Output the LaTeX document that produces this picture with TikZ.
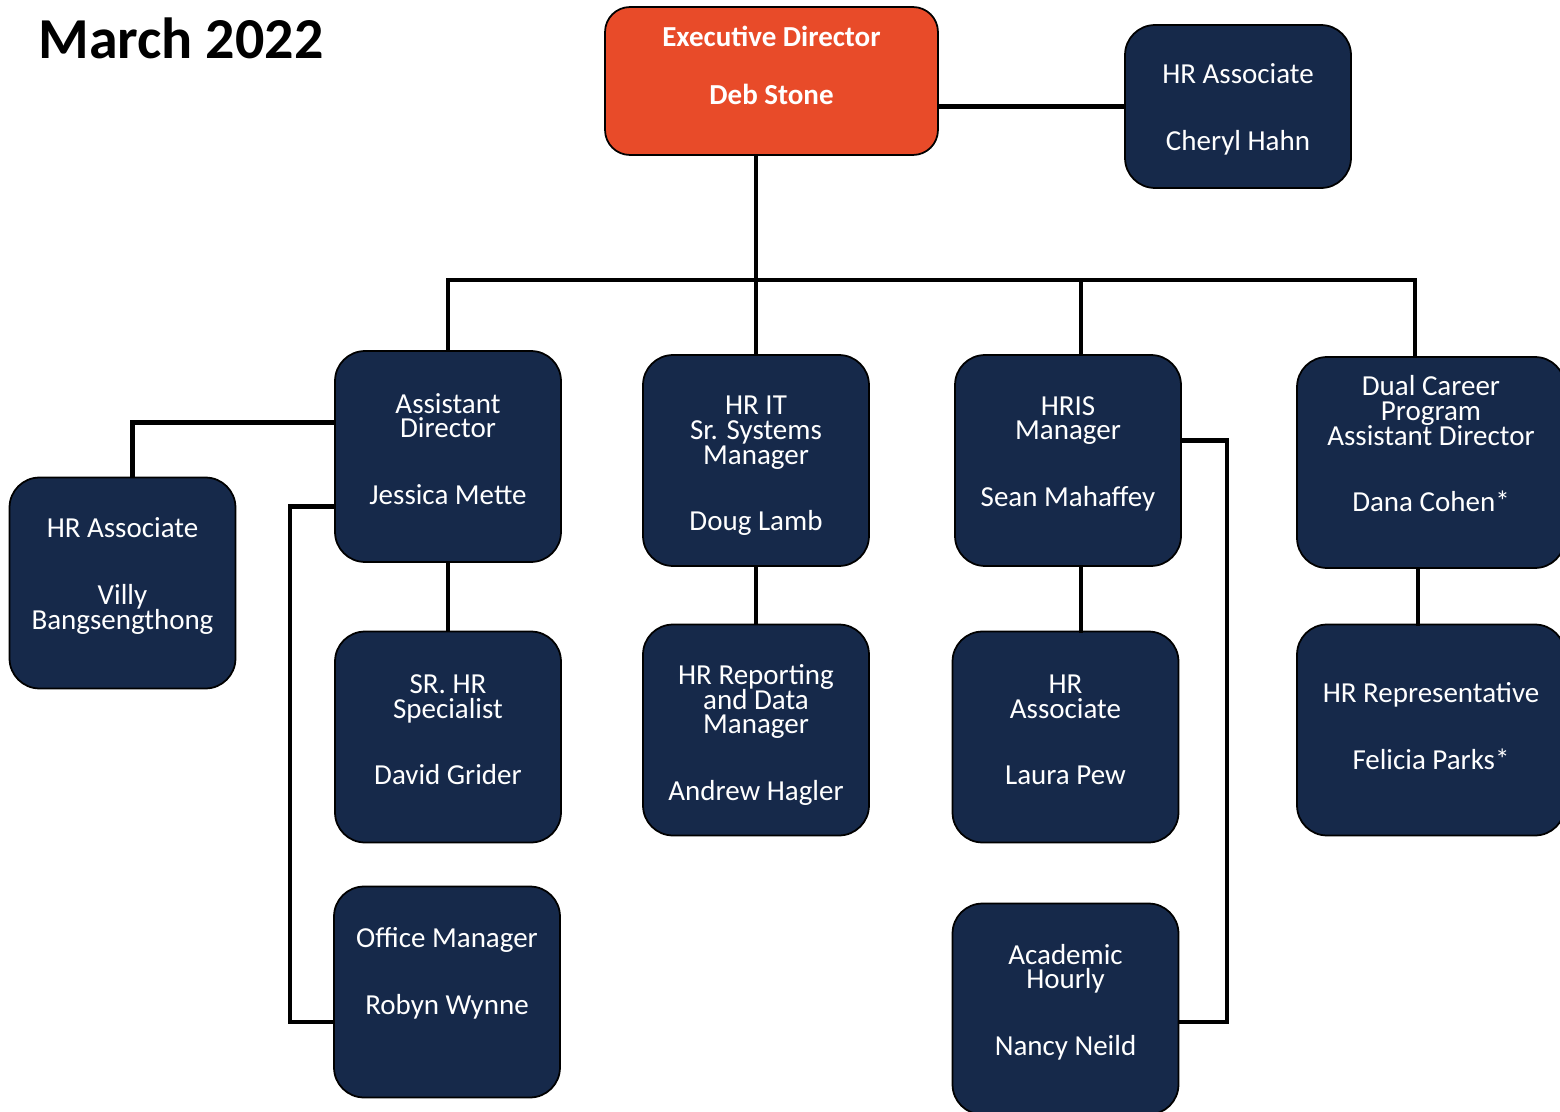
\documentclass[tikz,border=0pt]{standalone}
\usepackage{fontspec}
\setmainfont{Carlito}
\usepackage{tikz}
\usetikzlibrary{calc}

\definecolor{navy}{HTML}{16294A}
\definecolor{redorange}{HTML}{E84B29}
\setlength{\lineskiplimit}{-20pt}

\begin{document}
\begin{tikzpicture}[x=0.02cm,y=-0.02cm,
  box/.style={draw=black,line width=1pt,fill=navy,rounded corners=0.6cm,
    minimum width=4.52cm,minimum height=4.22cm,inner sep=0pt},
  txt/.style={text=white,align=center,inner sep=0pt,
    font=\fontsize{16.5}{14}\selectfont},
  link/.style={line width=2.6pt}]
\useasboundingbox (0,0) rectangle (1560,1112);

\node (title) at (38,58) [anchor=base west,inner sep=0pt,font=\fontsize{33}{36}\selectfont\bfseries] {March 2022};

% boxes
\node (ex) at (771.5,81) [box,fill=redorange,minimum width=6.66cm,minimum height=2.96cm,rounded corners=0.5cm] {};
\node (ch) at (1238,106.5) [box,minimum height=3.26cm] {};
\node (ad) at (448,456.5) [box] {};
\node (it) at (756,460.5) [box] {};
\node (hris) at (1068,460.5) [box] {};
\node (dc) at (1431,462.5) [box,minimum width=5.36cm] {};
\node (vb) at (122.5,583) [box] {};
\node (sr) at (448,737) [box] {};
\node (rep) at (756,730) [box] {};
\node (lp) at (1065.5,737) [box] {};
\node (fp) at (1431,730) [box,minimum width=5.36cm] {};
\node (om) at (447,992) [box] {};
\node (nn) at (1065.5,1009) [box] {};

% texts
\node (ex-t) at (771.5,65) [txt,font=\fontsize{16.5}{14}\selectfont\bfseries] {Executive Director\\[19pt]Deb Stone};
\node (ch-t) at (1238,109) [txt] {HR Associate\\[24pt]Cheryl Hahn};
\node (ad-t) at (448,449) [txt] {Assistant\\Director\\[24pt]Jessica Mette};
\node (it-t) at (756,466) [txt] {HR IT\\Sr. Systems\\Manager\\[24pt]Doug Lamb};
\node (hris-t) at (1068,454) [txt] {HRIS\\Manager\\[24pt]Sean Mahaffey};
\node (dc-t) at (1431,444) [txt] {Dual Career\\Program\\Assistant Director\\[24pt]Dana Cohen*};
\node (vb-t) at (122.5,576) [txt] {HR Associate\\[24pt]Villy\\Bangsengthong};
\node (sr-t) at (448,730) [txt] {SR. HR\\Specialist\\[24pt]David Grider};
\node (rep-t) at (756,735) [txt] {HR Reporting\\and Data\\Manager\\[24pt]Andrew Hagler};
\node (lp-t) at (1065.5,730) [txt] {HR\\Associate\\[24pt]Laura Pew};
\node (fp-t) at (1431,726) [txt] {HR Representative\\[24pt]Felicia Parks*};
\node (om-t) at (447,973) [txt] {Office Manager\\[24pt]Robyn Wynne};
\node (nn-t) at (1065.5,1002) [txt] {Academic\\Hourly\\[24pt]Nancy Neild};

% reporting lines
\draw[link] (it.north |- ex.south) -- (it.north);
\draw[link] (ch.west -| ex.east) -- (ch.west);
\draw[link] (ad.north) -- ++(0,-70) -| ($(dc.north)+(-16,0)$);
\draw[link] ($(hris.north)+(13,0)$) -- ++(0,-72);
\draw[link] ($(ad.west)+(0,-34)$) -| ($(vb.north)+(10,0)$);
\draw[link] ($(ad.west)+(0,50)$) -- ++(-44,0) |- ($(om.west)+(0,30)$);
\draw[link] (ad.south) -- (sr.north);
\draw[link] (it.south) -- (rep.north);
\draw[link] ($(hris.south)+(13,0)$) -- ++(0,66);
\draw[link] ($(hris.east)+(0,-20)$) -- ++(45,0) |- ($(nn.east)+(0,13)$);
\draw[link] ($(dc.south)+(-13,0)$) -- ++(0,57);
\end{tikzpicture}
\end{document}
